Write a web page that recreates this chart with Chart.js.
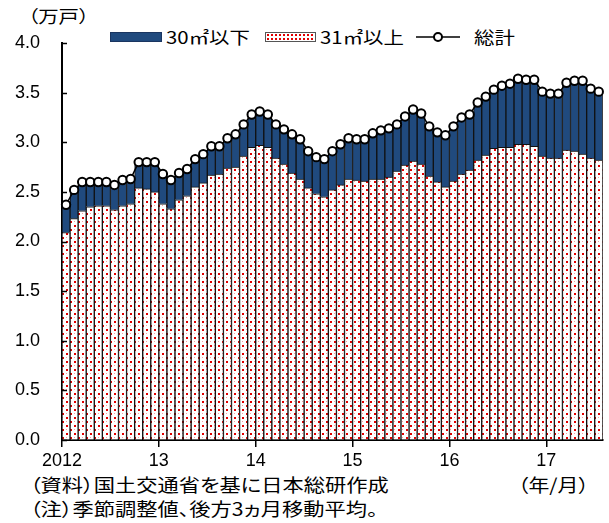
<!DOCTYPE html>
<html><head><meta charset="utf-8">
<script src="https://cdn.jsdelivr.net/npm/chart.js@4/dist/chart.umd.min.js"></script>
<style>
html,body{margin:0;padding:0;background:#fff;}
#wrap{position:relative;width:609px;height:523px;overflow:hidden;font-family:"Noto Sans CJK JP","Liberation Sans",sans-serif;color:#000;}
#c{position:absolute;left:0;top:0;z-index:2;}
.t{position:absolute;white-space:nowrap;line-height:1;font-feature-settings:"palt";transform-origin:0 50%;z-index:1;}
.sw{position:absolute;z-index:1;}
</style></head>
<body>
<div id="wrap">
<canvas id="c" width="609" height="523"></canvas>
<div class="t" style="left:28px;top:7px;font-size:17px;transform:scaleX(1.2);">（万戸）</div>
<div class="sw" style="left:110px;top:32px;width:52px;height:10px;background:#204a7e;border:1px solid #1a3560;box-sizing:border-box;"></div>
<div class="t" style="left:166px;top:28px;font-size:17px;transform:scaleX(1.2);">30㎡以下</div>
<div class="sw" style="left:265px;top:32px;width:51px;height:10px;box-sizing:border-box;border:1px solid #555;background-color:#fff;background-image:radial-gradient(circle,#e00000 0.9px,transparent 1.2px);background-size:4px 4px;"></div>
<div class="t" style="left:320px;top:28px;font-size:17px;transform:scaleX(1.2);">31㎡以上</div>
<svg class="sw" style="left:416px;top:29px;" width="48" height="16"><line x1="0" y1="8" x2="44" y2="8" stroke="#000" stroke-width="1.5"/><circle cx="22" cy="8" r="4" fill="#fff" stroke="#000" stroke-width="2"/></svg>
<div class="t" style="left:474px;top:28px;font-size:17px;transform:scaleX(1.2);">総計</div>
<div class="t" style="left:30px;top:475px;font-size:18px;transform:scaleX(1.18);">（資料）国土交通省を基に日本総研作成</div>
<div class="t" style="left:30px;top:499px;font-size:18px;transform:scaleX(1.18);">（注）季節調整値、後方3ヵ月移動平均。</div>
<div class="t" style="left:518px;top:475px;font-size:18px;transform:scaleX(1.16);">（年/月）</div>
</div>
<script>
// 2012/01 .. 2017/07 monthly
const months = [];
for (let y = 2012; y <= 2017; y++) for (let m = 1; m <= 12; m++) if (!(y === 2017 && m > 7)) months.push(y + '/' + m);
const yearLabels = ['2012', '13', '14', '15', '16', '17'];
const yTicks = [0, 0.5, 1.0, 1.5, 2.0, 2.5, 3.0, 3.5, 4.0];

const over31 = [2.09,2.23,2.31,2.35,2.36,2.36,2.32,2.36,2.38,2.54,2.53,2.50,
 2.38,2.33,2.42,2.46,2.55,2.59,2.67,2.68,2.74,2.75,2.86,2.95,
 2.97,2.95,2.84,2.78,2.69,2.63,2.54,2.48,2.45,2.52,2.57,2.63,
 2.62,2.61,2.63,2.63,2.65,2.71,2.77,2.81,2.78,2.66,2.60,2.55,
 2.61,2.68,2.72,2.82,2.87,2.94,2.95,2.95,2.98,2.98,2.96,2.86,
 2.84,2.84,2.92,2.91,2.88,2.84,2.82];
const under30 = [0.28,0.29,0.29,0.25,0.24,0.24,0.25,0.26,0.25,0.26,0.27,0.30,
 0.30,0.29,0.27,0.27,0.28,0.29,0.29,0.28,0.30,0.33,0.32,0.33,
 0.34,0.33,0.34,0.35,0.39,0.40,0.37,0.37,0.38,0.39,0.41,0.41,
 0.41,0.42,0.46,0.49,0.49,0.47,0.49,0.52,0.51,0.50,0.50,0.52,
 0.55,0.57,0.56,0.58,0.59,0.59,0.62,0.64,0.66,0.65,0.67,0.65,
 0.65,0.65,0.68,0.71,0.74,0.70,0.69];
const total = [2.37,2.52,2.60,2.60,2.60,2.60,2.57,2.62,2.63,2.80,2.80,2.80,
 2.68,2.62,2.69,2.73,2.83,2.88,2.96,2.96,3.04,3.08,3.18,3.28,
 3.31,3.28,3.18,3.13,3.08,3.03,2.91,2.85,2.83,2.91,2.98,3.04,
 3.03,3.03,3.09,3.12,3.14,3.18,3.26,3.33,3.29,3.16,3.10,3.07,
 3.16,3.25,3.28,3.40,3.46,3.53,3.57,3.59,3.64,3.63,3.63,3.51,
 3.49,3.49,3.60,3.62,3.62,3.54,3.51];

function makePattern() {
  const t = document.createElement('canvas');
  t.width = 8; t.height = 8;
  const g = t.getContext('2d');
  g.fillStyle = '#ffffff'; g.fillRect(0, 0, 8, 8);
  g.fillStyle = '#e00000';
  g.fillRect(2, 1, 2, 2);
  g.fillRect(6, 5, 2, 2);
  g.fillStyle = '#f3a0a0';
  g.fillRect(6, 1, 1, 1);
  g.fillRect(2, 5, 1, 1);
  return document.getElementById('c').getContext('2d').createPattern(t, 'repeat');
}

const innerTicks = {
  id: 'innerTicks',
  afterDatasetsDraw(chart) {
    const ys = chart.scales.y, ctx = chart.ctx;
    ctx.save();
    ctx.strokeStyle = '#000'; ctx.lineWidth = 1.5;
    ys.ticks.forEach(t => {
      const py = Math.round(ys.getPixelForValue(t.value)) + 0.5;
      ctx.beginPath(); ctx.moveTo(ys.right, py); ctx.lineTo(ys.right + 5, py); ctx.stroke();
    });
    ctx.restore();
  }
};

new Chart(document.getElementById('c'), {
  data: {
    labels: months,
    datasets: [
      { type: 'bar', label: '31㎡以上', data: over31, backgroundColor: makePattern(), borderColor: '#111', borderWidth: 1, order: 1, stack: 'bars', xAxisID: 'x' },
      { type: 'bar', label: '30㎡以下', data: under30, backgroundColor: '#204a7e', borderColor: '#111', borderWidth: 1, order: 1, stack: 'bars', xAxisID: 'x' },
      { type: 'line', label: '総計', data: total, borderColor: '#000', borderWidth: 1.5, pointRadius: 4.2, pointBorderWidth: 2, pointBackgroundColor: '#fff', pointBorderColor: '#000', tension: 0, order: 0, stack: 'line', xAxisID: 'x' }
    ]
  },
  options: {
    responsive: false,
    animation: false,
    layout: { padding: { left: 0, right: 2, top: 43, bottom: 0 } },
    plugins: { legend: { display: false }, tooltip: { enabled: false } },
    datasets: { bar: { barPercentage: 1, categoryPercentage: 1 } },
    scales: {
      x: { type: 'category', stacked: true, display: false, offset: true },
      x2: {
        type: 'linear', position: 'bottom', min: 0, max: months.length,
        afterBuildTicks: s => { s.ticks = yearLabels.map((_, i) => ({ value: i * 12 })); },
        afterFit: s => { s.height = 83; },
        ticks: { autoSkip: false, maxRotation: 0, padding: 3, color: '#000',
          font: { family: '"Liberation Sans", Arial, sans-serif', size: 18 },
          callback: (v, i) => yearLabels[i] },
        grid: { drawOnChartArea: false, drawTicks: true, tickLength: 7, color: '#000', lineWidth: 1.5 },
        border: { display: true, color: '#000', width: 2 }
      },
      y: {
        stacked: true, min: 0, max: 4,
        afterBuildTicks: s => { s.ticks = yTicks.map(v => ({ value: v })); },
        afterFit: s => { s.width = 62; },
        ticks: { padding: 22, color: '#000', font: { family: '"Liberation Sans", Arial, sans-serif', size: 18 },
          callback: v => Number(v).toFixed(1) },
        grid: { drawOnChartArea: false, drawTicks: false },
        border: { display: true, color: '#000', width: 2 }
      }
    }
  },
  plugins: [innerTicks]
});
</script>
</body></html>
